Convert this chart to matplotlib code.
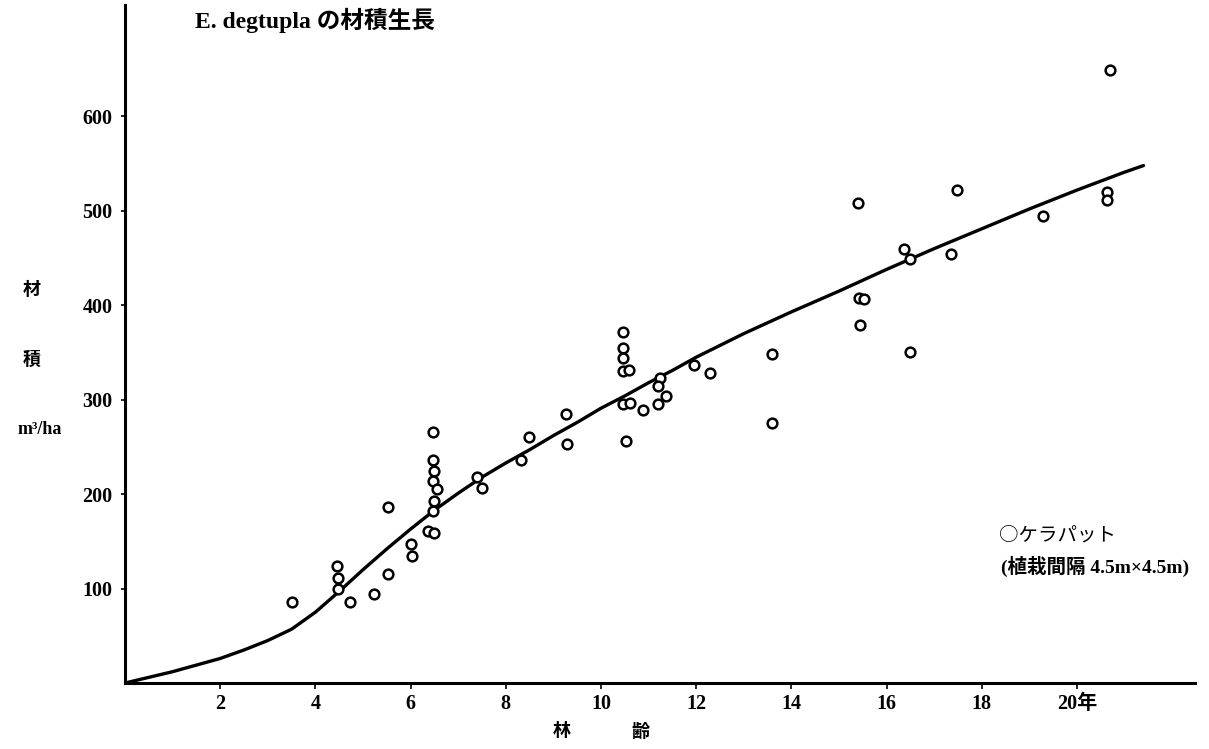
import matplotlib
matplotlib.use("Agg")
import matplotlib.pyplot as plt

plt.rcParams['font.family'] = ['Liberation Serif', 'Noto Sans CJK JP', 'DejaVu Sans']

# observed stands: age (years), volume (m3/ha)
age = [3.51, 4.45, 4.47, 4.48, 4.73, 5.23, 5.52, 5.52, 6.0, 6.02,
       6.47, 6.47, 6.5, 6.47, 6.55, 6.49, 6.47, 6.37, 6.5,
       7.39, 7.5, 8.32, 8.49, 9.26, 9.29,
       10.46, 10.46, 10.46, 10.46, 10.59, 10.46, 10.6, 10.52, 10.88,
       11.2, 11.24, 11.2, 11.37, 11.95, 12.29,
       13.59, 13.59, 15.44, 15.42, 15.52, 15.4, 16.37, 16.5, 16.5,
       17.35, 17.47, 19.29, 20.63, 20.63, 20.69]
volume = [86, 124, 111, 100, 86, 94, 115, 186, 147, 135,
          266, 236, 225, 214, 205, 193, 182, 161, 159,
          218, 206, 236, 260, 285, 253,
          372, 355, 344, 330, 331, 296, 297, 256, 289,
          296, 323, 315, 304, 337, 328,
          348, 275, 379, 408, 407, 508, 460, 449, 351,
          454, 522, 495, 520, 512, 649]

# fitted growth curve
curve_age = [0, 0.5, 1, 1.5, 2, 2.5, 3, 3.5, 4, 4.5, 5, 5.5, 6, 6.5, 7, 7.5,
             8, 8.5, 9, 9.5, 10, 10.5, 11, 11.5, 12, 13, 14, 15, 16, 17,
             18, 19, 20, 21, 21.4]
curve_vol = [0, 6, 12, 19, 26, 35, 45, 57, 75, 97, 120, 142, 163, 183, 201, 218,
             233, 247, 262, 276, 291, 304, 318, 331, 345, 370, 393, 415, 438, 460,
             481, 502, 522, 541, 548]

xticks = [2, 4, 6, 8, 10, 12, 14, 16, 18, 20]
xticklabels = ['2', '4', '6', '8', '10', '12', '14', '16', '18', '20年']
yticks = [100, 200, 300, 400, 500, 600]
yticklabels = ['100', '200', '300', '400', '500', '600']

fig = plt.figure(figsize=(12.09, 7.49), dpi=100)
ax = fig.add_axes([0.1034, 0.0881, 0.8850, 0.9052])
ax.set_xlim(0, 22.48)
ax.set_ylim(0, 718)

ax.plot(curve_age, curve_vol, color='black', lw=2.4, solid_capstyle='round',
        solid_joinstyle='round', zorder=2)
ax.plot(age, volume, linestyle='none', marker='o', ms=7, mfc='white',
        mec='black', mew=1.8, zorder=3)

for s in ['top', 'right']:
    ax.spines[s].set_visible(False)
for s in ['left', 'bottom']:
    ax.spines[s].set_linewidth(2.2)

ax.set_xticks(xticks)
ax.set_xticklabels(xticklabels, fontsize=14.5, fontweight='bold')
ax.set_yticks(yticks)
ax.set_yticklabels(yticklabels, fontsize=14.5, fontweight='bold')
ax.tick_params(axis='x', length=4, width=1.2, pad=4, direction='out')
ax.tick_params(axis='y', length=3, width=1.2, pad=6, direction='out')

fig.text(195/1209, 1 - 20/749, 'E. degtupla の材積生長', fontsize=17,
         fontweight='bold', ha='left', va='center')
fig.text(32/1209, 1 - 290/749, '材', fontsize=13, fontweight='bold', ha='center', va='center')
fig.text(32/1209, 1 - 360/749, '積', fontsize=13, fontweight='bold', ha='center', va='center')
fig.text(40/1209, 1 - 430/749, 'm³/ha', fontsize=13, fontweight='bold', ha='center', va='center')
fig.text(562/1209, 1 - 732/749, '林', fontsize=13, fontweight='bold', ha='center', va='center')
fig.text(640/1209, 1 - 732/749, '齢', fontsize=13, fontweight='bold', ha='center', va='center')
fig.text(1057/1209, 1 - 535/749, '○ケラパット', fontsize=14, ha='center', va='center',
         family=['Noto Sans CJK JP', 'DejaVu Sans'])
fig.text(1095/1209, 1 - 566/749, '(植栽間隔 4.5m×4.5m)', fontsize=14,
         fontweight='bold', ha='center', va='center')

fig.savefig('out.png', dpi=100, facecolor='white')
